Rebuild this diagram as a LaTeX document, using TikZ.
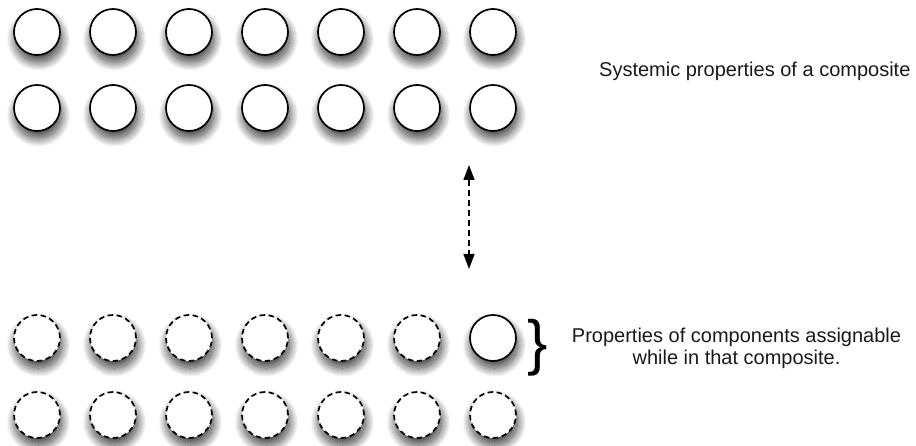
\documentclass[tikz,border=0pt]{standalone}
\usepackage{fontspec}
\setmainfont{Liberation Sans}
\usetikzlibrary{shadows.blur,arrows.meta}

\tikzset{
  ball/.style={circle, draw=black, fill=white, line width=1.7pt,
    minimum size=46pt, inner sep=0pt,
    blur shadow={shadow xshift=1.5pt, shadow yshift=-7pt,
      shadow blur radius=9pt, shadow blur steps=40, shadow opacity=80}},
  ghost/.style={ball, dash pattern=on 5.5pt off 3.5pt},
  label/.style={font=\fontsize{20pt}{21pt}\selectfont, inner sep=0pt, text=black!90},
  link/.style={line width=1.3pt, dash pattern=on 6pt off 4pt,
    {Triangle[length=15pt,width=11pt]}-{Triangle[length=15pt,width=11pt]}},
  bracket/.style={font=\fontsize{61pt}{61pt}\selectfont, inner sep=0pt}
}

\begin{document}
\begin{tikzpicture}[x=1pt, y=-1pt]
  \useasboundingbox (0,0) rectangle (916,446);

  % composite: two rows of solid circles
  \foreach \r/\y in {1/32, 2/108} {
    \foreach \i in {0,...,6} {
      \node[ball] (top-\r-\i) at ({37+76*\i}, \y) {};
    }
  }

  % components: two rows of dashed circles; the last one of the first row is solid
  \foreach \r/\y in {1/338, 2/415} {
    \foreach \i in {0,...,6} {
      \pgfmathsetmacro\kind{(\r==1 && \i==6) ? "ball" : "ghost"}
      \node[\kind] (bot-\r-\i) at ({37+76*\i}, \y) {};
    }
  }

  % two-way relation between the levels
  \coordinate (up) at (469, 165);
  \coordinate (down) at (469, 269);
  \draw[link] (up) -- (down);

  % brace grouping the solid component
  \node[bracket] (brace) at (538, 347.5) {\}};

  \node[label, anchor=base west] (systemic) at (599, 77)
    {Systemic properties of a composite};
  \node[label, anchor=base, align=center] (assignable) at (736.5, 364)
    {Properties of components assignable\\while in that composite.};
\end{tikzpicture}
\end{document}
